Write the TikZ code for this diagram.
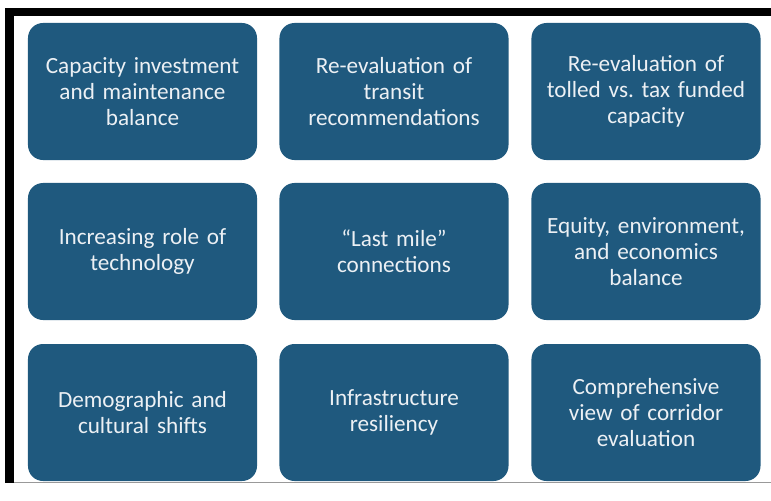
\documentclass[tikz,border=0pt]{standalone}
\usepackage{fontspec}
\setmainfont{Carlito}
\usepackage{tikz}
\usetikzlibrary{positioning,calc}
\definecolor{TileBlue}{RGB}{31,89,126}
\definecolor{TileText}{RGB}{236,240,244}
\tikzset{
  tile/.style={fill=TileBlue,draw=none,rounded corners=0.45cm,
    minimum width=6.87cm,minimum height=4.11cm,text width=6.5cm,align=center,
    text=TileText,font=\fontsize{19.8}{22.4}\selectfont\frenchspacing,inner sep=0pt},
  bar/.style={fill=black,draw=none},
}

\begin{document}
\begin{tikzpicture}[x=0.03cm,y=-0.03cm]
\useasboundingbox (0,0) rectangle (771,501);
% frame
\fill[bar] (5,8) rectangle (771,16);
\fill[bar] (5,8) rectangle (14,483);
\draw[black!40,line width=0.6pt] (14,482) -- (771,482);
% grid of tiles
\coordinate (c11) at (142.5,91.5);
\coordinate (c12) at (394,91.5);
\coordinate (c13) at (646,91.5);
\coordinate (c21) at (142.5,251.5);
\coordinate (c22) at (394,251.5);
\coordinate (c23) at (646,251.5);
\coordinate (c31) at (142.5,412.5);
\coordinate (c32) at (394,412.5);
\coordinate (c33) at (646,412.5);
\node[tile] (t11) at (c11) {Capacity investment\\and maintenance\\balance};
\node[tile] (t12) at (c12) {Re-evaluation of\\transit\\recommendations};
\node[tile] (t13) at (c13) {Re-evaluation of\\tolled vs. tax funded\\capacity};
\node[tile] (t21) at (c21) {Increasing role of\\technology};
\node[tile] (t22) at (c22) {“Last mile”\\connections};
\node[tile] (t23) at (c23) {Equity, environment,\\and economics\\balance};
\node[tile] (t31) at (c31) {Demographic and\\cultural shifts};
\node[tile] (t32) at (c32) {Infrastructure\\resiliency};
\node[tile] (t33) at (c33) {Comprehensive\\view of corridor\\evaluation};
\end{tikzpicture}
\end{document}
